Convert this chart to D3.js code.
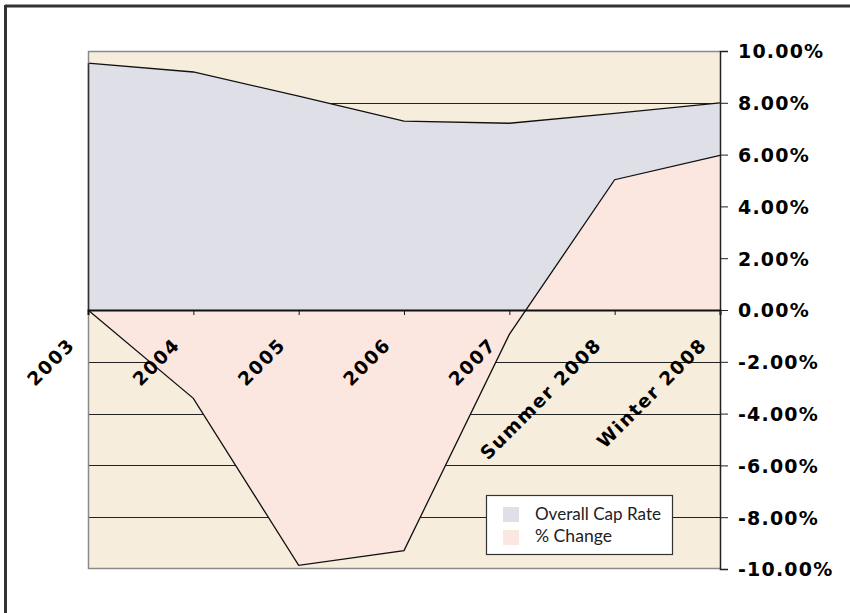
<!DOCTYPE html>
<html>
<head>
<meta charset="utf-8">
<script src="https://cdn.jsdelivr.net/npm/d3@7"></script>
<style>
html,body{margin:0;padding:0;background:#fff;}
svg{display:block;}
</style>
</head>
<body>
<svg id="chart" width="850" height="613"></svg>
<script>
const categories = ["2003","2004","2005","2006","2007","Summer 2008","Winter 2008"];
const capRate = [9.53, 9.19, 8.26, 7.29, 7.21, 7.59, 8.0];
const pctChange = [0, -3.41, -9.86, -9.29, -0.94, 5.03, 5.97];
const yTicks = [-10,-8,-6,-4,-2,0,2,4,6,8,10];
const seriesNames = ["Overall Cap Rate","% Change"];
const seriesColors = ["#dfdfe8","#fce7e0"];

const svg = d3.select("#chart");
const L = 88, R = 720, T = 51, B = 569;

const x = d3.scalePoint().domain(categories).range([L, R]);
const y = d3.scaleLinear().domain([-10, 10]).range([B, T]);

// outer frame
svg.append("line").attr("x1",5).attr("x2",850).attr("y1",6).attr("y2",6)
  .attr("stroke","#333").attr("stroke-width",3);
svg.append("line").attr("x1",5.5).attr("x2",5.5).attr("y1",5).attr("y2",613)
  .attr("stroke","#333").attr("stroke-width",3);

// plot background
svg.append("rect").attr("x",L).attr("y",T).attr("width",R-L).attr("height",B-T)
  .attr("fill","#f6eddc");

// gridlines
svg.append("g").selectAll("line").data(yTicks.filter(d => d !== 10 && d !== -10 && d !== 0))
  .join("line")
  .attr("x1",L).attr("x2",R)
  .attr("y1",d => Math.round(y(d))+0.5).attr("y2",d => Math.round(y(d))+0.5)
  .attr("stroke","#222").attr("stroke-width",1);

// areas
const area = vals => d3.area()
  .x((d,i) => x(categories[i]))
  .y0(y(0))
  .y1(d => y(d))(vals);
const line = vals => d3.line()
  .x((d,i) => x(categories[i]))
  .y(d => y(d))(vals);

svg.append("path").attr("d", area(capRate)).attr("fill", seriesColors[0]);
svg.append("path").attr("d", line(capRate)).attr("fill","none").attr("stroke","#111").attr("stroke-width",1.3);
svg.append("path").attr("d", area(pctChange)).attr("fill", seriesColors[1]);
svg.append("path").attr("d", line(pctChange)).attr("fill","none").attr("stroke","#111").attr("stroke-width",1.3);

// plot border (left, top, bottom gray)
svg.append("path")
  .attr("d", `M${R},${T+0.5}H${L+0.5}V${B-0.5}H${R}`)
  .attr("fill","none").attr("stroke","#8a8a8a").attr("stroke-width",1.5);
svg.append("line").attr("x1",L+0.5).attr("x2",L+0.5).attr("y1",y(capRate[0])).attr("y2",y(0))
  .attr("stroke","#333").attr("stroke-width",1.5);

// zero axis with ticks
const xAxis = d3.axisBottom(x).tickSize(5).tickFormat("");
const gx = svg.append("g").attr("transform",`translate(0,${Math.round(y(0))})`).call(xAxis);
gx.select(".domain").attr("stroke","#111").attr("stroke-width",2);
gx.selectAll(".tick line").attr("stroke","#111").attr("stroke-width",1);

// category labels
svg.append("g").selectAll("text").data(categories).join("text")
  .attr("transform", d => `translate(${x(d)-12},${y(0)+36}) rotate(-45)`)
  .attr("text-anchor","end")
  .attr("font-family","DejaVu Sans, Verdana, sans-serif")
  .attr("font-weight","bold")
  .attr("font-size",18.5)
  .attr("letter-spacing","1.6px")
  .attr("fill","#000")
  .text(d => d);

// right axis
const fmt = d => d3.format(".2f")(d).replace("\u2212","-") + "%";
const yAxis = d3.axisRight(y).tickValues(yTicks).tickSize(8).tickFormat(fmt);
const gy = svg.append("g").attr("transform",`translate(${R},0)`).call(yAxis);
gy.select(".domain").attr("stroke","#222").attr("stroke-width",1.5);
gy.selectAll(".tick line").attr("stroke","#222");
gy.selectAll(".tick text")
  .attr("x",18)
  .attr("dy","0.36em")
  .attr("font-family","DejaVu Sans, Verdana, sans-serif")
  .attr("font-weight","bold")
  .attr("font-size",19)
  .attr("letter-spacing","1.2px")
  .attr("fill","#000");

// legend
const lg = svg.append("g");
lg.append("rect").attr("x",486.5).attr("y",495.5).attr("width",186).attr("height",59)
  .attr("fill","#fff").attr("stroke","#333").attr("stroke-width",1.2);
const legendWidths = [126, 77];
seriesNames.forEach((n,i) => {
  lg.append("rect").attr("x",503).attr("y",507+i*23).attr("width",16).attr("height",15)
    .attr("fill",seriesColors[i]);
  lg.append("text").attr("x",535).attr("y",519.5+i*22.5)
    .attr("font-family","Lato, Open Sans, sans-serif")
    .attr("font-size",17)
    .attr("textLength",legendWidths[i])
    .attr("lengthAdjust","spacingAndGlyphs")
    .attr("fill","#222")
    .text(n);
});
</script>
</body>
</html>
